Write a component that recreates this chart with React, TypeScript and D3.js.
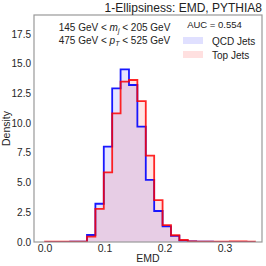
import React from "react";
import * as d3 from "d3";

const binWidth = 0.014;
const qcdValues = [0, 0.01, 0.01, 0.02, 0.03, 0.59, 3.22, 8.02, 12.93, 14.53, 13.21, 9.7, 5.22, 2.61, 1.32, 0.52, 0.12, 0.05, 0.03, 0.02, 0.01, 0.01, 0.01, 0.0, 0.0];
const topValues = [0.02, 0.02, 0.02, 0.02, 0.03, 0.45, 2.78, 5.86, 10.83, 13.49, 13.63, 11.86, 7.26, 3.53, 1.42, 0.57, 0.17, 0.06, 0.04, 0.03, 0.02, 0.02, 0.05, 0.06, 0.03];
const yTicks = [0, 2.5, 5, 7.5, 10, 12.5, 15, 17.5];
const xTicks = [0, 0.1, 0.2, 0.3];
const title = "1-Ellipsiness: EMD, PYTHIA8";
const aucLabel = "AUC = 0.554";
const seriesNames = ["QCD Jets", "Top Jets"];

const W = 266, H = 266;
const L = 34, R = 262, T = 15, B = 242;
const FONT = "'Liberation Sans', Arial, sans-serif";

export default function App() {
  const x = d3.scaleLinear().domain([-0.0183, 0.3617]).range([L, R]);
  const y = d3.scaleLinear().domain([0, (B - T) / ((B - 34) / 17.5)]).range([B, T]);

  const stepPts = (vals: number[]): [number, number][] => {
    const pts: [number, number][] = [[0, 0]];
    vals.forEach((v, i) => {
      pts.push([i * binWidth, v]);
      pts.push([(i + 1) * binWidth, v]);
    });
    pts.push([vals.length * binWidth, 0]);
    return pts;
  };
  const line = d3.line<[number, number]>().x(d => x(d[0])).y(d => y(d[1]));
  const area = d3.area<[number, number]>().x(d => x(d[0])).y0(y(0)).y1(d => y(d[1]));

  const qPts = stepPts(qcdValues);
  const tPts = stepPts(topValues);

  return (
    <svg width={W} height={H} style={{ position: "absolute", left: 0, top: 0, background: "#fff" }} fontFamily={FONT}>
      <rect x={0} y={0} width={W} height={H} fill="#fff" />
      <defs>
        <clipPath id="plot"><rect x={L} y={T} width={R - L} height={B - T} /></clipPath>
      </defs>
      <g clipPath="url(#plot)">
        <path d={area(qPts) || ""} fill="blue" fillOpacity={0.1} />
        <path d={area(tPts) || ""} fill="red" fillOpacity={0.1} />
        <path d={line(qPts) || ""} fill="none" stroke="blue" strokeWidth={1.8} strokeOpacity={0.9} />
        <path d={line(tPts) || ""} fill="none" stroke="red" strokeWidth={1.8} strokeOpacity={0.85} />
      </g>
      <rect x={L} y={T} width={R - L} height={B - T} fill="none" stroke="#999" strokeWidth={1.2} />
      {yTicks.map(t => (
        <text key={t} x={L - 3} y={y(t)} dy="0.35em" textAnchor="end" fontSize={10} fill="#262626">{t.toFixed(1)}</text>
      ))}
      {xTicks.map(t => (
        <text key={t} x={x(t)} y={B + 9.5} textAnchor="middle" fontSize={10.5} fill="#262626">{t.toFixed(1)}</text>
      ))}
      <text x={(L + R) / 2} y={262} textAnchor="middle" fontSize={10.5} fill="#262626">EMD</text>
      <text transform={`translate(10,${(T + B) / 2}) rotate(-90)`} textAnchor="middle" fontSize={10.5} fill="#262626">Density</text>
      <text x={R} y={12} textAnchor="end" fontSize={12} fill="#222">{title}</text>
      <text x={114.5} y={31} textAnchor="middle" fontSize={10} fill="#222">
        145 GeV &lt; <tspan fontStyle="italic">m</tspan><tspan fontStyle="italic" fontSize={7} dy={2}>j</tspan><tspan dy={-2}> &lt; 205 GeV</tspan>
      </text>
      <text x={114.5} y={44} textAnchor="middle" fontSize={10} fill="#222">
        475 GeV &lt; <tspan fontStyle="italic">p</tspan><tspan fontStyle="italic" fontSize={7} dy={2}>T</tspan><tspan dy={-2}> &lt; 525 GeV</tspan>
      </text>
      <text x={214.5} y={28} textAnchor="middle" fontSize={9.5} fill="#222">{aucLabel}</text>
      <rect x={183} y={37} width={20} height={7} fill="blue" fillOpacity={0.12} />
      <rect x={183} y={51} width={20} height={7} fill="red" fillOpacity={0.12} />
      <text x={212} y={44.5} fontSize={10} fill="#222">{seriesNames[0]}</text>
      <text x={212} y={58.5} fontSize={10} fill="#222">{seriesNames[1]}</text>
    </svg>
  );
}
